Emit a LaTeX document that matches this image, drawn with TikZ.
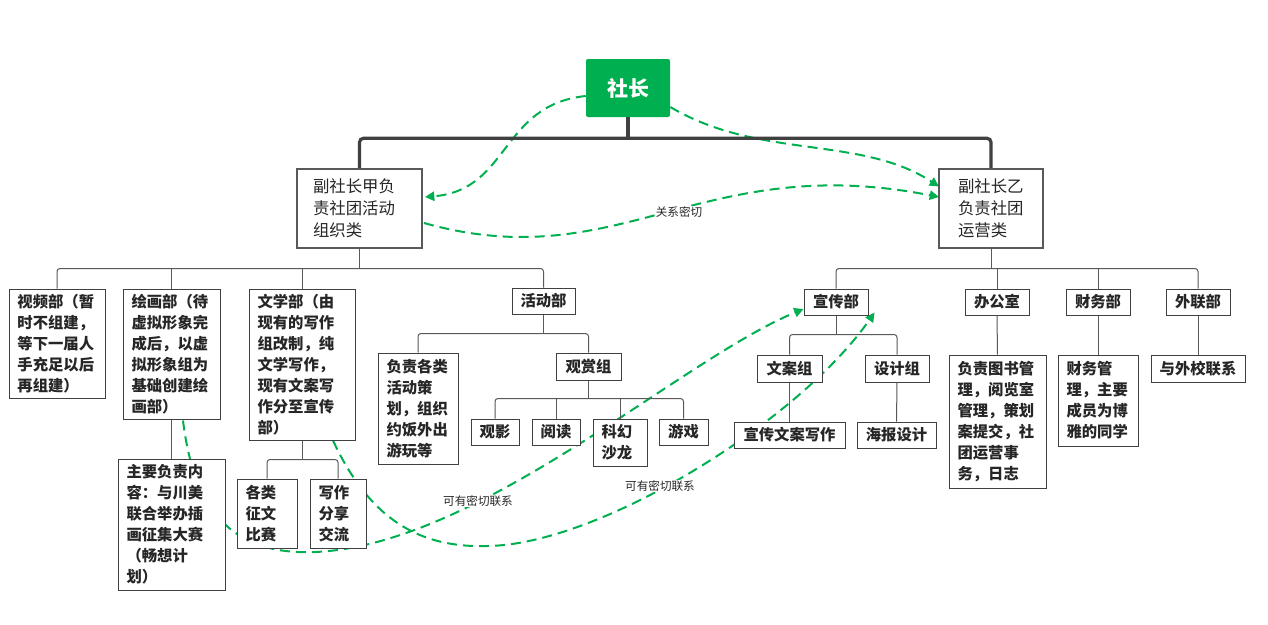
\documentclass[tikz,border=0pt]{standalone}
\usepackage{fontspec}
\setmainfont{Noto Sans CJK SC}
\usetikzlibrary{arrows.meta,calc}
\definecolor{sgreen}{HTML}{00B050}
\definecolor{edgecol}{HTML}{404040}
\definecolor{conncol}{HTML}{595959}
\definecolor{txtcol}{HTML}{262626}
\pgfdeclarelayer{back}\pgfdeclarelayer{curves}\pgfsetlayers{back,curves,main}
\tikzset{
  box/.style={draw=edgecol,line width=0.75pt,fill=white,text=txtcol,inner xsep=6.375pt,inner ysep=1pt,align=left,
    font=\bfseries\fontsize{11.5}{15.75}\selectfont},
  cbox/.style={box,align=center,inner xsep=1pt},
  vice/.style={draw=conncol,line width=1.5pt,fill=white,text=txtcol,align=left,inner ysep=1pt,
    font=\fontsize{12.3}{16.5}\selectfont},
  conn/.style={draw=conncol,line width=0.75pt,rounded corners=2.25pt},
  topconn/.style={draw=edgecol,line width=2.4pt,rounded corners=3pt},
  rel/.style={draw=sgreen,line width=1.5pt,dash pattern=on 7.5pt off 4.5pt,-{Triangle[length=7pt,width=7pt]}},
  lbl/.style={fill=white,inner sep=0.5pt,text=txtcol,font=\fontsize{8.7}{10}\selectfont},
}
\newcommand\mkbox[7][]{%
 \pgfmathsetmacro\mkbw{(#5-#3)*0.75}%
 \pgfmathsetmacro\mkbh{(#6-#4)*0.75}%
 \pgfmathsetmacro\mktw{(#5-#3-17)*0.75}%
 \node[box,minimum width=\mkbw pt,minimum height=\mkbh pt,text width=\mktw pt,#1] (#2) at ({(#3+#5)/2},{(#4+#6)/2}) {#7};}
\newcommand\mkcbox[6]{%
 \pgfmathsetmacro\mkbw{(#4-#2)*0.75}%
 \pgfmathsetmacro\mkbh{(#5-#3)*0.75}%
 \node[cbox,minimum width=\mkbw pt,minimum height=\mkbh pt] (#1) at ({(#2+#4)/2},{(#3+#5)/2}) {#6};}
\begin{document}
\begin{tikzpicture}[x=0.75pt,y=-0.75pt]
\useasboundingbox (0,0) rectangle (1268,625);
\begin{pgfonlayer}{back}
\fill[white] (0,0) rectangle (1268,625);
\end{pgfonlayer}

% top
\node[fill=sgreen,rounded corners=1.5pt,minimum width=63pt,minimum height=43.5pt,text=white,
  font=\bfseries\fontsize{15.75}{18}\selectfont] (top) at (628,88) {社长};
\node[vice,minimum width=93.75pt,minimum height=59.25pt,text width=69.75pt,inner xsep=12pt] (vA) at (359.5,208.5) {副社长甲负\\责社团活动\\组织类};
\node[vice,minimum width=78pt,minimum height=59.25pt,text width=49.5pt,inner xsep=14.25pt] (vB) at (991,208.5) {副社长乙\\负责社团\\运营类};

% left branch
\mkbox{sp}{9}{289}{105}{398}{视频部（暂\\时不组建，\\等下一届人\\手充足以后\\再组建）}
\mkbox{hh}{123}{289}{220}{419}{绘画部（待\\虚拟形象完\\成后，以虚\\拟形象组为\\基础创建绘\\画部）}
\mkbox{zy}{118}{459}{225}{590}{主要负责内\\容：与川美\\联合举办插\\画征集大赛\\（畅想计\\划）}
\mkbox{wx}{249}{289}{355}{440}{文学部（由\\现有的写作\\组改制，纯\\文学写作，\\现有文案写\\作分至宣传\\部）}
\mkbox{zw}{237}{479}{297}{548}{各类\\征文\\比赛}
\mkbox{xz}{310}{479}{366}{548}{写作\\分享\\交流}
\mkcbox{hd}{512}{288}{575}{314}{活动部}
\mkbox{fz}{378}{353}{458}{464}{负责各类\\活动策\\划，组织\\约饭外出\\游玩等}
\mkcbox{gs}{556}{353}{621}{380}{观赏组}
\mkcbox{gy}{471}{419}{519}{445}{观影}
\mkcbox{yd}{532}{419}{580}{445}{阅读}
\mkbox{kh}{593}{419}{647}{466}{科幻\\沙龙}
\mkcbox{yx}{659}{419}{708}{445}{游戏}

% right branch
\mkcbox{xc}{804}{289}{868}{315}{宣传部}
\mkcbox{bgs}{965}{289}{1029}{315}{办公室}
\mkcbox{cw}{1066}{289}{1130}{315}{财务部}
\mkcbox{wl}{1166}{289}{1230}{315}{外联部}
\mkcbox{wa}{757}{355}{822}{382}{文案组}
\mkcbox{sj}{865}{355}{929}{382}{设计组}
\mkcbox{xw}{734}{422}{845}{448}{宣传文案写作}
\mkcbox{hb}{857}{422}{936}{448}{海报设计}
\mkbox{ts}{949}{355}{1046}{488}{负责图书管\\理，阅览室\\管理，策划\\案提交，社\\团运营事\\务，日志}
\mkbox{cg}{1058}{355}{1138}{446}{财务管\\理，主要\\成员为博\\雅的同学}
\mkcbox{wxl}{1151}{355}{1245}{382}{与外校联系}

% tree connectors
\coordinate (bT) at ($(top.south)+(0,21)$);
\draw[topconn] (top.south) -- (bT);
\draw[topconn] (vA.north) |- (bT) -| (vB.north);

\coordinate (bA) at ($(vA.south)+(0,19.5)$);
\draw[conn] (vA.south) -- (bA);
\draw[conn] (sp.north) |- (bA) -| (hd.north);
\draw[conn] (hh.north) -- (hh.north |- bA);
\draw[conn] (wx.north) -- (wx.north |- bA);
\draw[conn] (hh.south) -- (zy.north);

\coordinate (bW) at ($(wx.south)+(0,19)$);
\draw[conn] (wx.south) -- (bW);
\draw[conn] (zw.north) |- (bW) -| (xz.north);

\coordinate (bH) at ($(hd.south)+(0,19)$);
\draw[conn] (hd.south) -- (bH);
\draw[conn] (fz.north) |- (bH) -| (gs.north);

\coordinate (bG) at ($(gs.south)+(0,18)$);
\draw[conn] (gs.south) -- (bG);
\draw[conn] (gy.north) |- (bG) -| (yx.north);
\draw[conn] (yd.north) -- (yd.north |- bG);
\draw[conn] (kh.north) -- (kh.north |- bG);

\coordinate (bB) at ($(vB.south)+(0,19.5)$);
\draw[conn] (vB.south) -- (bB);
\draw[conn] (xc.north) |- (bB) -| (wl.north);
\draw[conn] (bgs.north) -- (bgs.north |- bB);
\draw[conn] (cw.north) -- (cw.north |- bB);

\coordinate (bX) at ($(xc.south)+(0,19)$);
\draw[conn] (xc.south) -- (bX);
\draw[conn] (wa.north) |- (bX) -| (sj.north);
\draw[conn] (wa.south) -- (xw.north);
\draw[conn] (sj.south) -- (hb.north);
\draw[conn] (bgs.south) -- (ts.north);
\draw[conn] (cw.south) -- (cg.north);
\draw[conn] (wl.south) -- (wxl.north);

% green dashed relations
\begin{pgfonlayer}{curves}
\draw[rel] ($(top.west)+(0,8)$) .. controls (500,105) and (510,190) .. ($(vA.east)+(2,-11.5)$);
\draw[rel] ($(top.east)+(0,19)$) .. controls (760,160) and (860,135) .. ($(vB.west)+(1,-22)$);
\draw[rel] ($(vA.east)+(1,14.5)$) .. controls (620,278) and (700,150) .. ($(vB.west)+(1,-11.5)$);
\draw[rel] ($(hh.south)+(11.5,1)$) .. controls (195,520) and (240,555) .. (315,552)
  .. controls (480,545) and (680,360) .. ($(xc.west)+(0,7)$);
\draw[rel] ($(wx.south)+(31,0)$) .. controls (370,520) and (420,548) .. (487,546)
  .. controls (600,545) and (800,420) .. ($(xc.south east)+(6,-3)$);
\end{pgfonlayer}
\node[lbl] (l1) at (679,212) {关系密切};
\node[lbl] (l2) at (478,501) {可有密切联系};
\node[lbl] (l3) at (660,486) {可有密切联系};
\end{tikzpicture}
\end{document}
